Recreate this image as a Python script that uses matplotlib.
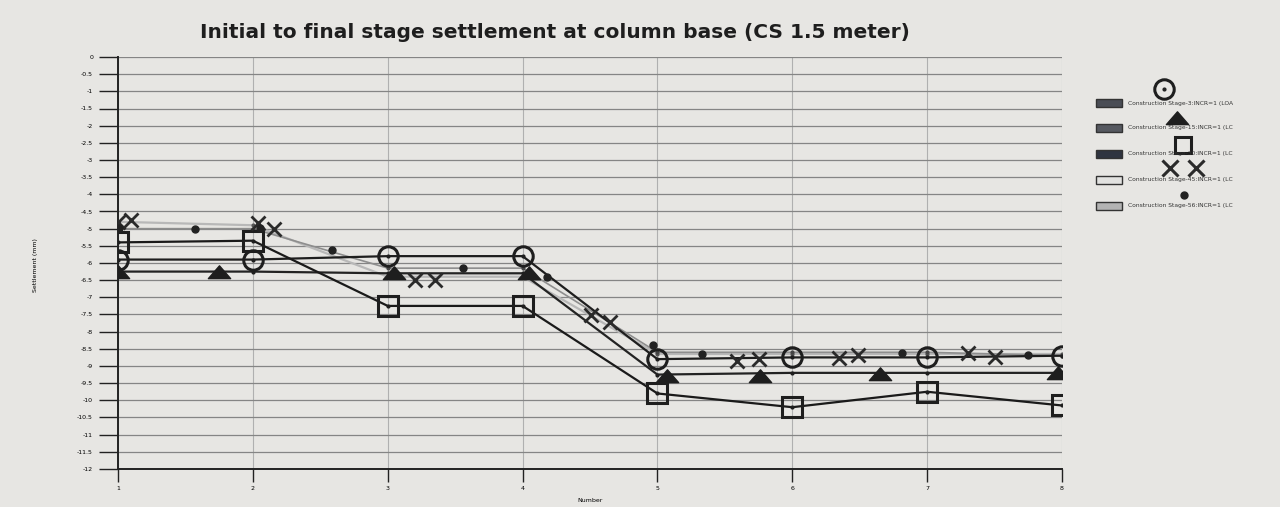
"""Initial to final stage settlement at column base (CS 1.5 m) - reproduction."""
import numpy as np
import matplotlib
matplotlib.use("Agg")
import matplotlib.pyplot as plt
from matplotlib.path import Path
from matplotlib.patches import Rectangle

# ── data ────────────────────────────────────────────────────────────────
number = [1, 2, 3, 4, 5, 6, 7, 8]
stage_3 = [-5.9, -5.9, -5.8, -5.8, -8.8, -8.75, -8.75, -8.7]
stage_15 = [-6.25, -6.25, -6.3, -6.3, -9.25, -9.2, -9.2, -9.2]
stage_30 = [-5.4, -5.35, -7.25, -7.25, -9.8, -10.2, -9.75, -10.15]
stage_45 = [-4.8, -4.9, -6.4, -6.4, -8.65, -8.65, -8.65, -8.65]
stage_56 = [-5.0, -5.0, -6.15, -6.15, -8.6, -8.6, -8.6, -8.7]

# symbol positions as printed along the lines
stage_15_sym_x = [1.0, 1.75, 3.05, 4.05, 5.07, 5.76, 6.65, 7.97]
stage_15_sym_y = [-6.25, -6.25, -6.3, -6.3, -9.28, -9.28, -9.22, -9.2]
stage_45_sym_x = [1.0, 1.1, 2.04, 2.16, 3.2, 3.35, 4.51, 4.65, 5.59, 5.75, 6.35, 6.49, 7.3, 7.5]
stage_45_sym_y = [-4.8, -4.75, -4.83, -5.0, -6.5, -6.5, -7.52, -7.72, -8.85, -8.8, -8.77, -8.68, -8.62, -8.75]
stage_56_sym_x = [1.01, 1.57, 2.05, 2.59, 3.56, 4.18, 4.97, 5.33, 6.81, 7.75]
stage_56_sym_y = [-4.98, -5.02, -4.98, -5.62, -6.15, -6.4, -8.4, -8.66, -8.62, -8.68]

labels = [
    "Construction Stage-3:INCR=1 (LOA",
    "Construction Stage-15:INCR=1 (LC",
    "Construction Stage-30:INCR=1 (LC",
    "Construction Stage-45:INCR=1 (LC",
    "Construction Stage-56:INCR=1 (LC",
]
y_ticks = np.arange(0, -12.5, -0.5)

PAPER = "#e7e6e3"
INK = "#1e1e1e"

# flat, wide triangle like the printed symbol
FLAT_TRI = Path([(-1.0, -0.55), (1.0, -0.55), (0.0, 0.6), (-1.0, -0.55)],
                [Path.MOVETO, Path.LINETO, Path.LINETO, Path.CLOSEPOLY])

fig = plt.figure(figsize=(12.8, 5.07), dpi=100, facecolor=PAPER)
ax = fig.add_axes([118 / 1280, 1 - 469 / 507, (1062 - 118) / 1280, (469 - 57) / 507])
ax.set_facecolor(PAPER)

# lines with small dots at every data point
ax.plot(number, stage_45, color="#b8b8b8", lw=1.6, marker=".", ms=4, mfc="#555", mec="#555", zorder=3)
ax.plot(number, stage_56, color="#8e8e8e", lw=1.2, marker=".", ms=4, mfc="#444", mec="#444", zorder=3)
ax.plot(number, stage_3, color=INK, lw=1.6, marker=".", ms=4, mfc=INK, mec=INK, zorder=4)
ax.plot(number, stage_15, color="#232323", lw=1.6, marker=".", ms=4, mfc=INK, mec=INK, zorder=4)
ax.plot(number, stage_30, color="#1a1a1a", lw=1.6, marker=".", ms=4, mfc=INK, mec=INK, zorder=4)

# symbol markers
ax.plot(number, stage_3, ls="none", marker="o", ms=14, mfc="none", mec=INK, mew=2.2, zorder=5)
ax.plot(number, stage_30, ls="none", marker="s", ms=14, mfc="none", mec=INK, mew=2.2, zorder=5)
ax.plot(stage_15_sym_x, stage_15_sym_y, ls="none", marker=FLAT_TRI, ms=16, color=INK, zorder=5)
ax.plot(stage_45_sym_x, stage_45_sym_y, ls="none", marker="x", ms=10, mec="#2a2a2a", mew=2.0, zorder=5)
ax.plot(stage_56_sym_x, stage_56_sym_y, ls="none", marker="o", ms=5, color="#222", zorder=5)

ax.set_xlim(1, 8)
ax.set_ylim(-12, 0)
ax.set_xticks(number)
ax.set_yticks(y_ticks)
ax.set_yticklabels([f"{t:g}" for t in y_ticks])
ax.grid(axis="y", color="#858585", lw=0.9)
ax.grid(axis="x", color="#b0b0b0", lw=0.8)
ax.tick_params(axis="y", length=14, width=1.0, labelsize=4.5, pad=4, color="#222")
ax.tick_params(axis="x", length=9, width=1.0, labelsize=4.5, pad=3, color="#222")
for side in ("top", "right"):
    ax.spines[side].set_visible(False)
for side in ("left", "bottom"):
    ax.spines[side].set_linewidth(1.4)
    ax.spines[side].set_color("#222")
ax.set_axisbelow(True)

ax.set_xlabel("Number", fontsize=4.5, labelpad=5)
fig.text(35 / 1280, 1 - 265 / 507, "Settlement (mm)", rotation=90, fontsize=4.5,
         ha="center", va="center")
fig.text(555 / 1280, 1 - 33 / 507, "Initial to final stage settlement at column base (CS 1.5 meter)",
         fontsize=14.5, fontweight="bold", ha="center", va="center", color=INK)

# ── legend (drawn in pixel space) ───────────────────────────────────────
lax = fig.add_axes([0, 0, 1, 1], facecolor="none")
lax.set_xlim(0, 1280)
lax.set_ylim(507, 0)
lax.axis("off")
swatch = ["#4a4d55", "#565960", "#2f3440", "#e2e2e0", "#b3b3b3"]
rows = [103, 128, 154, 180, 206]
for col, yy, lab in zip(swatch, rows, labels):
    lax.add_patch(Rectangle((1096, yy - 4), 26, 8, facecolor=col, edgecolor="#333", lw=1.0))
    lax.text(1128, yy, lab, fontsize=4.3, va="center", ha="left", color="#333")
lax.plot([1164], [89], marker="o", ms=14, mfc="none", mec=INK, mew=2.2)
lax.plot([1164], [89], marker=".", ms=4, color="#222")
lax.plot([1177], [118], marker=FLAT_TRI, ms=16, color=INK)
lax.plot([1183], [145], marker="s", ms=12, mfc="none", mec=INK, mew=2.2)
lax.plot([1170, 1196], [168, 168], ls="none", marker="x", ms=11, mec="#2a2a2a", mew=2.2)
lax.plot([1184], [195], marker="o", ms=5, color="#222")

fig.savefig("out.png", dpi=100, facecolor=PAPER)
